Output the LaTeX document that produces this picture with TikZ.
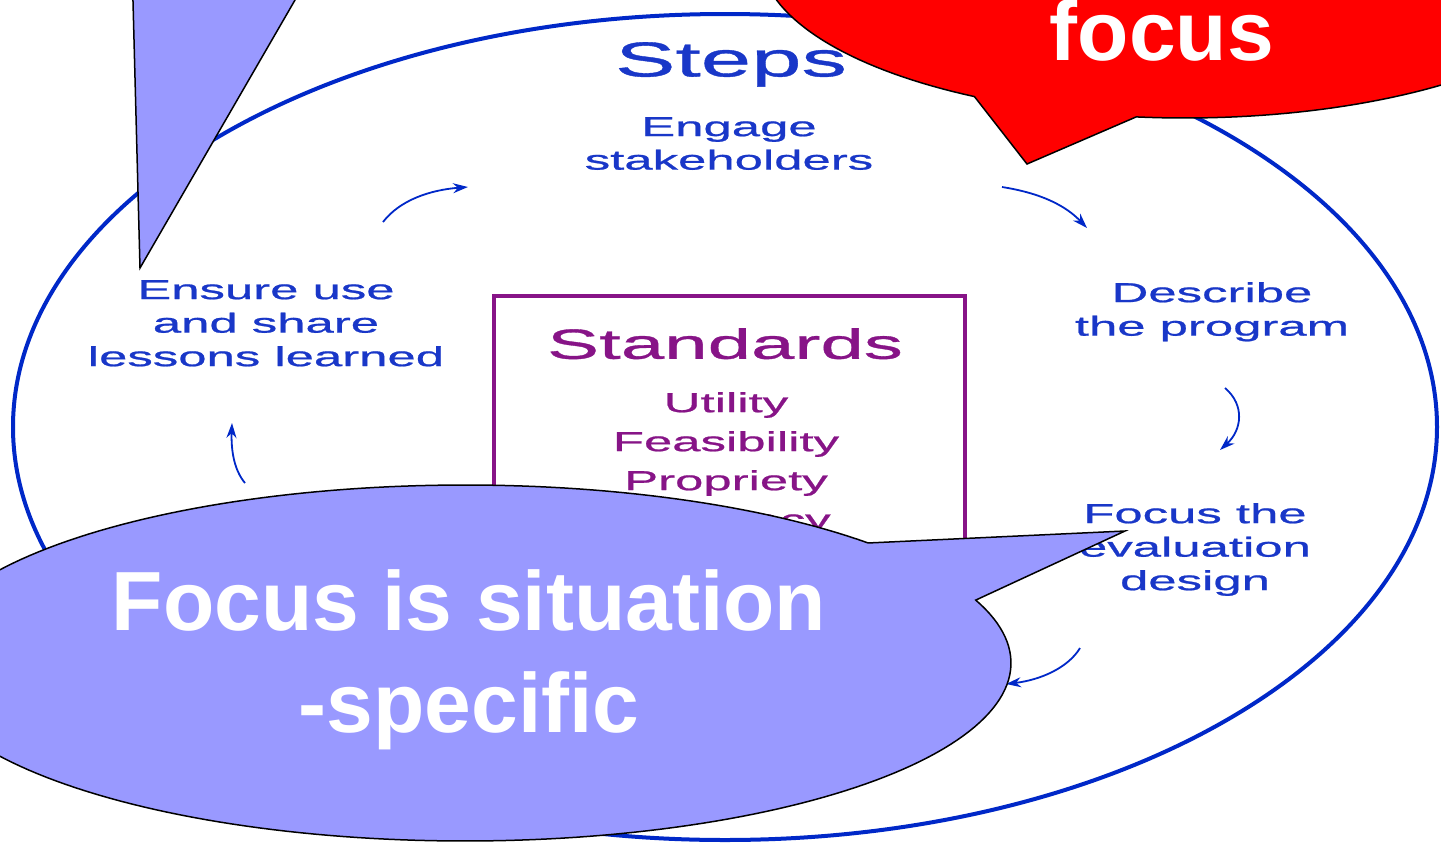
\documentclass[tikz,border=0pt]{standalone}
\usepackage{fontspec}
\setmainfont{Liberation Sans}
\newfontfamily\widesans[FakeStretch=1.85,FakeBold=0.8]{Liberation Sans}
\usetikzlibrary{arrows.meta}
\definecolor{ringblue}{RGB}{0,40,200}
\definecolor{stepblue}{RGB}{25,55,200}
\definecolor{stdpurple}{RGB}{135,20,135}
\definecolor{calloutblue}{RGB}{153,153,255}
\definecolor{calloutred}{RGB}{255,0,0}
\tikzset{
  ring/.style={draw=ringblue, line width=4pt},
  steptext/.style={text=stepblue, font=\widesans\fontsize{27.5}{33.5}\selectfont, align=center, inner sep=0pt, anchor=north},
  stdtext/.style={text=stdpurple, font=\widesans\fontsize{27.5}{39}\selectfont, align=center, inner sep=0pt, anchor=north},
  stdbox/.style={draw=stdpurple, line width=3.4pt},
  steparrow/.style={draw=ringblue, line width=1.8pt, -{Stealth[length=15pt,width=10pt]}},
  callout/.style={fill=calloutblue, draw=black, line width=1.5pt, line join=miter},
  redcallout/.style={fill=calloutred, draw=black, line width=1.5pt, line join=miter},
  callouttext/.style={text=white, font=\bfseries\fontsize{84}{102}\selectfont, align=center, inner sep=0pt, anchor=north}
}
\begin{document}
\begin{tikzpicture}[x=1pt,y=-1pt]
\useasboundingbox (0,0) rectangle (1441,844);
\clip (0,0) rectangle (1441,844);
\fill[white] (0,0) rectangle (1441,844);

% the cycle
\draw[ring] (725,427) ellipse [x radius=712, y radius=413];

\node[text=stepblue, font=\widesans\fontsize{49}{56}\selectfont, inner sep=0pt, anchor=north] (steps) at (731,42) {Steps};
\node[steptext] (engage) at (729,117) {Engage\\stakeholders};
\node[steptext] (describe) at (1212,282) {Describe\\the program};
\node[steptext] (focusdesign) at (1195,503) {Focus the\\evaluation\\design};
\node[steptext] (ensure) at (266,280) {Ensure use\\and share\\lessons learned};

% standards box
\draw[stdbox] (494,296) rectangle (965,720);
\node[text=stdpurple, font=\widesans\fontsize{42.2}{50}\selectfont, inner sep=0pt, anchor=north] (standards) at (725,328) {Standards};
\node[stdtext] (stdlist) at (726,392) {Utility\\Feasibility\\Propriety\\Accuracy};

% small cycle arrows
\coordinate (a1s) at (383,222); \coordinate (a1e) at (468,187);
\coordinate (a2s) at (1002,187); \coordinate (a2e) at (1087,228);
\coordinate (a3s) at (1225,388); \coordinate (a3e) at (1220,450);
\coordinate (a4s) at (1080,648); \coordinate (a4e) at (1006,684);
\coordinate (a5s) at (245,483); \coordinate (a5e) at (232,423);
\draw[steparrow] (a1s) .. controls (400,200) and (430,190) .. (a1e);
\draw[steparrow] (a2s) .. controls (1040,193) and (1065,205) .. (a2e);
\draw[steparrow] (a3s) .. controls (1245,405) and (1242,430) .. (a3e);
\draw[steparrow] (a4s) .. controls (1068,668) and (1040,680) .. (a4e);
\draw[steparrow] (a5s) .. controls (234,470) and (231,450) .. (a5e);

% bottom callout
\path[callout] plot[domain=-20.7:317.6, samples=220] ({465+546*cos(\x)},{663+178*sin(\x)}) -- (1125,531) -- cycle;
\node[callouttext] (situation) at (469,569) {Focus is situation\\-specific};

% top right red callout
\path[redcallout] plot[domain=-240.3:96.6, samples=200] ({1185+425*cos(\x)},{-45+163*sin(\x)}) -- (1027,164) -- cycle;
\node[text=white, font=\bfseries\fontsize{84}{102}\selectfont, inner sep=0pt, anchor=base] (focus) at (1162,60) {focus};

% top left blue pointer
\path[callout] (132.7,-10) -- (140,268) -- (300.8,-10) -- cycle;
\end{tikzpicture}
\end{document}
